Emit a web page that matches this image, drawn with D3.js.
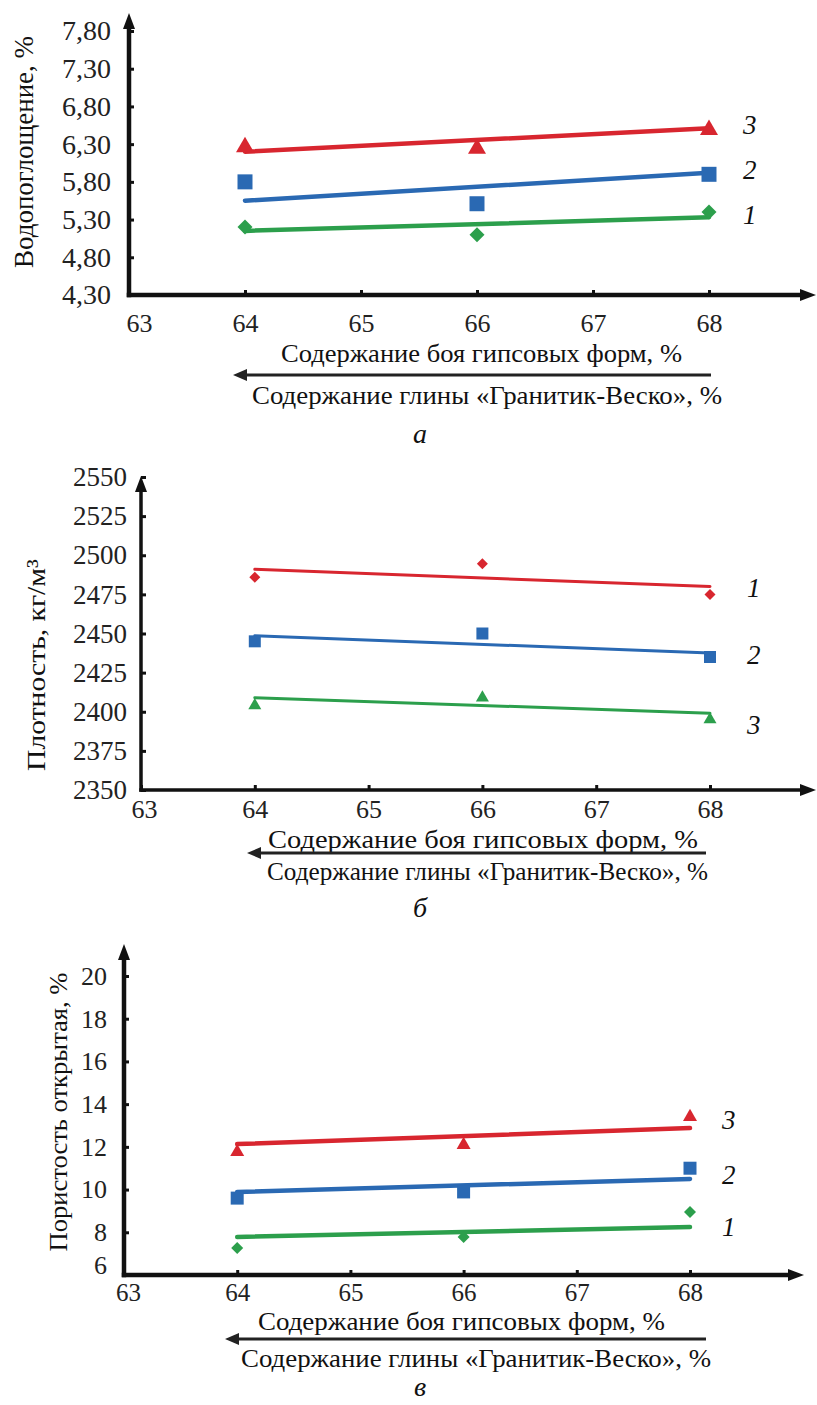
<!DOCTYPE html>
<html>
<head>
<meta charset="utf-8">
<script src="https://cdn.jsdelivr.net/npm/d3@7"></script>
<style>
  body { margin: 0; background: #fff; }
  svg { display: block; }
</style>
</head>
<body>
<script>
// ---- data ----
const xTicks = [63, 64, 65, 66, 67, 68];
const xPoints = [64, 66, 68];
const xTrend = [64, 68];

// panel а: water absorption, %
const waterTicks = [4.3, 4.8, 5.3, 5.8, 6.3, 6.8, 7.3, 7.8];
const water1 = [5.20, 5.10, 5.40];
const water2 = [5.80, 5.51, 5.90];
const water3 = [6.26, 6.24, 6.49];
const waterTrend1 = [5.15, 5.33];
const waterTrend2 = [5.55, 5.92];
const waterTrend3 = [6.20, 6.51];

// panel б: density, kg/m3
const densTicks = [2350, 2375, 2400, 2425, 2450, 2475, 2500, 2525, 2550];
const dens1 = [2486, 2494.5, 2475];
const dens2 = [2445, 2450, 2435];
const dens3 = [2404, 2409, 2395];
const densTrend1 = [2491, 2480];
const densTrend2 = [2448.5, 2437.6];
const densTrend3 = [2409, 2399];

// panel в: open porosity, %
const porTicks = [6, 8, 10, 12, 14, 16, 18, 20];
const por1 = [7.26, 7.78, 8.95];
const por2 = [9.6, 9.89, 11.0];
const por3 = [11.76, 12.09, 13.4];
const porTrend1 = [7.78, 8.25];
const porTrend2 = [9.89, 10.5];
const porTrend3 = [12.13, 12.88];

const xTitle1 = 'Содержание боя гипсовых форм, %';
const xTitle2 = 'Содержание глины «Гранитик-Веско», %';

const RED = '#d8262f', BLUE = '#2a69b3', GREEN = '#2c9f4c';
const SERIF = '"Liberation Serif", "Times New Roman", serif';

const ruLocale = d3.formatLocale({decimal: ',', thousands: ' ', grouping: [3], currency: ['', '']});

const svg = d3.select('body').append('svg')
  .attr('width', 817)
  .attr('height', 1405);

svg.append('rect').attr('width', 817).attr('height', 1405).attr('fill', '#fff');

function arrowHead(g, x, y, dir, len, half, color) {
  // dir: 'up' | 'right' | 'left'
  let pts;
  if (dir === 'up') pts = [[x, y], [x - half, y + len], [x + half, y + len]];
  if (dir === 'right') pts = [[x, y], [x - len, y - half], [x - len, y + half]];
  if (dir === 'left') pts = [[x, y], [x + len, y - half], [x + len, y + half]];
  g.append('path')
    .attr('d', 'M' + pts.map(p => p.join(',')).join('L') + 'Z')
    .attr('fill', color);
}

function marker(shape, size) {
  if (shape === 'square') return d3.symbol(d3.symbolSquare, size * size)();
  if (shape === 'triangle') return d3.symbol(d3.symbolTriangle, 0.433 * size * size)();
  // diamond: square rotated 45deg
  const h = size / 2;
  return `M0,${-h}L${h},0L0,${h}L${-h},0Z`;
}

function drawPanel(p) {
  const x = d3.scaleLinear().domain([63, 68]).range(p.xRange);
  const y = d3.scaleLinear().domain([p.yTicks[0], p.yTicks[p.yTicks.length - 1]]).range(p.yRange);
  const g = svg.append('g');
  const x0 = x(63), y0 = y(p.yTicks[0]);

  // y axis ticks + labels
  const yAxis = g.append('g')
    .attr('transform', `translate(${x0},0)`)
    .call(d3.axisLeft(y)
      .tickValues(p.yTicks)
      .tickSize(-p.tickLen)
      .tickSizeOuter(0)
      .tickPadding(p.yPad)
      .tickFormat(p.yFmt));
  yAxis.attr('font-family', SERIF);
  yAxis.select('.domain').remove();
  yAxis.selectAll('line').attr('stroke', '#111').attr('stroke-width', 3);
  yAxis.selectAll('text')
    .attr('font-family', SERIF)
    .attr('font-size', p.yFont)
    .attr('fill', '#222')
    .attr('dy', (d, i) => i === 0 ? p.firstYdy : '0.32em');

  // x axis ticks + labels
  const xAxis = g.append('g')
    .attr('transform', `translate(0,${y0})`)
    .call(d3.axisBottom(x)
      .tickValues(xTicks)
      .tickSize(-p.tickLen)
      .tickSizeOuter(0)
      .tickPadding(p.xPad)
      .tickFormat(d3.format('d')));
  xAxis.attr('font-family', SERIF);
  xAxis.select('.domain').remove();
  xAxis.selectAll('line').attr('stroke', '#111').attr('stroke-width', 3);
  xAxis.selectAll('text')
    .attr('font-family', SERIF)
    .attr('font-size', p.xFont)
    .attr('fill', '#222')
    .attr('dx', (d, i) => i === 0 ? p.firstXdx : 0);

  // axis lines with arrows
  g.append('line')
    .attr('x1', x0).attr('x2', x0)
    .attr('y1', y0 + p.axisW / 2).attr('y2', p.yArrowTip + 10)
    .attr('stroke', '#111').attr('stroke-width', p.axisW);
  arrowHead(g, x0, p.yArrowTip, 'up', 16, 6, '#111');
  g.append('line')
    .attr('x1', x0 - p.axisW / 2).attr('x2', p.xArrowTip - 10)
    .attr('y1', y0).attr('y2', y0)
    .attr('stroke', '#111').attr('stroke-width', p.axisW);
  arrowHead(g, p.xArrowTip, y0, 'right', 16, 6, '#111');

  // y title
  g.append('text')
    .attr('transform', `translate(${p.yTitle.x},${p.yTitle.y}) rotate(-90)`)
    .attr('text-anchor', 'middle')
    .attr('dominant-baseline', 'central')
    .attr('font-family', SERIF)
    .attr('font-size', p.yTitle.size)
    .attr('fill', '#111')
    .attr('textLength', p.yTitle.len)
    .attr('lengthAdjust', 'spacingAndGlyphs')
    .text(p.yTitle.text);

  // series
  const line = d3.line().x(d => x(d[0])).y(d => y(d[1]));
  p.series.forEach(s => {
    g.append('path')
      .attr('d', line(xTrend.map((v, i) => [v, s.trend[i]])))
      .attr('fill', 'none')
      .attr('stroke', s.color)
      .attr('stroke-width', p.lineW)
      .attr('stroke-linecap', 'round');
    g.selectAll(null)
      .data(xPoints.map((v, i) => [v, s.values[i]]))
      .join('path')
      .attr('d', marker(s.shape, s.size))
      .attr('transform', d => `translate(${x(d[0])},${y(d[1])})`)
      .attr('fill', s.color);
    g.append('text')
      .attr('x', x(68) + p.labelDx)
      .attr('y', y(s.trend[1]) + s.labelDy)
      .attr('dominant-baseline', 'central')
      .attr('font-family', SERIF)
      .attr('font-style', 'italic')
      .attr('font-size', 27)
      .attr('fill', '#111')
      .text(s.label);
  });

  // bottom titles with arrow
  g.append('text')
    .attr('x', p.t1.x).attr('y', p.t1.y)
    .attr('font-family', SERIF).attr('font-size', 25).attr('fill', '#111')
    .attr('textLength', p.t1.len).attr('lengthAdjust', 'spacingAndGlyphs')
    .text(xTitle1);
  g.append('line')
    .attr('x1', p.arrow.x1 + 8).attr('x2', p.arrow.x2)
    .attr('y1', p.arrow.y).attr('y2', p.arrow.y)
    .attr('stroke', '#222').attr('stroke-width', 3);
  arrowHead(g, p.arrow.x1, p.arrow.y, 'left', 14, 6, '#222');
  g.append('text')
    .attr('x', p.t2.x).attr('y', p.t2.y)
    .attr('font-family', SERIF).attr('font-size', 25).attr('fill', '#111')
    .attr('textLength', p.t2.len).attr('lengthAdjust', 'spacingAndGlyphs')
    .text(xTitle2);

  // caption letter
  g.append('text')
    .attr('x', 420).attr('y', p.caption.y)
    .attr('text-anchor', 'middle')
    .attr('font-family', SERIF).attr('font-style', 'italic').attr('font-size', 28).attr('fill', '#111')
    .text(p.caption.text);
}

drawPanel({
  xRange: [129, 709], yRange: [295, 31], yTicks: waterTicks,
  yFmt: ruLocale.format('.2f'), yFont: 28, yPad: 18, firstYdy: '0.32em',
  xFont: 26, xPad: 19, firstXdx: 10,
  tickLen: 5, axisW: 4.5, lineW: 4.5, yArrowTip: 13, xArrowTip: 816,
  yTitle: {x: 24, y: 152, size: 27, len: 232, text: 'Водопоглощение, %'},
  series: [
    {values: water1, trend: waterTrend1, color: GREEN, shape: 'diamond', size: 15, label: '1', labelDy: -2},
    {values: water2, trend: waterTrend2, color: BLUE, shape: 'square', size: 15, label: '2', labelDy: -3},
    {values: water3, trend: waterTrend3, color: RED, shape: 'triangle', size: 18, label: '3', labelDy: -3}
  ],
  labelDx: 34,
  t1: {x: 281, y: 362, len: 401},
  arrow: {x1: 233, x2: 711, y: 375},
  t2: {x: 252, y: 404, len: 470},
  caption: {y: 443, text: 'а'}
});

drawPanel({
  xRange: [141, 710], yRange: [790, 477], yTicks: densTicks,
  yFmt: ruLocale.format('d'), yFont: 27, yPad: 14, firstYdy: '0.32em',
  xFont: 26, xPad: 10, firstXdx: 3,
  tickLen: 5, axisW: 3.5, lineW: 3, yArrowTip: 476, xArrowTip: 816,
  yTitle: {x: 36, y: 665, size: 26, len: 212, text: 'Плотность, кг/м³'},
  series: [
    {values: dens1, trend: densTrend1, color: RED, shape: 'diamond', size: 11, label: '1', labelDy: 1},
    {values: dens2, trend: densTrend2, color: BLUE, shape: 'square', size: 12, label: '2', labelDy: 2},
    {values: dens3, trend: densTrend3, color: GREEN, shape: 'triangle', size: 13, label: '3', labelDy: 12}
  ],
  labelDx: 37,
  t1: {x: 268, y: 848, len: 430},
  arrow: {x1: 247, x2: 706, y: 853},
  t2: {x: 267, y: 880, len: 441},
  caption: {y: 917, text: 'б'}
});

drawPanel({
  xRange: [124, 690], yRange: [1275, 976], yTicks: porTicks,
  yFmt: ruLocale.format('d'), yFont: 26, yPad: 17, firstYdy: '-0.05em',
  xFont: 25, xPad: 8, firstXdx: 4,
  tickLen: 5, axisW: 4.5, lineW: 4.5, yArrowTip: 944, xArrowTip: 804,
  yTitle: {x: 58, y: 1112, size: 26, len: 279, text: 'Пористость открытая, %'},
  series: [
    {values: por1, trend: porTrend1, color: GREEN, shape: 'diamond', size: 12, label: '1', labelDy: 0},
    {values: por2, trend: porTrend2, color: BLUE, shape: 'square', size: 13, label: '2', labelDy: -4},
    {values: por3, trend: porTrend3, color: RED, shape: 'triangle', size: 14, label: '3', labelDy: -8}
  ],
  labelDx: 32,
  t1: {x: 258, y: 1330, len: 407},
  arrow: {x1: 225, x2: 706, y: 1339},
  t2: {x: 241, y: 1367, len: 470},
  caption: {y: 1396, text: 'в'}
});
</script>
</body>
</html>
